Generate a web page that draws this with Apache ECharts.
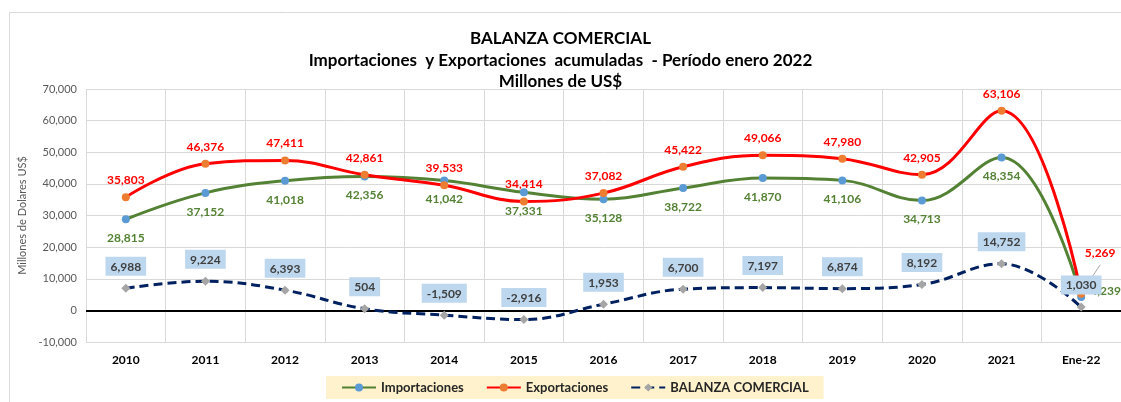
<!DOCTYPE html>
<html>
<head>
<meta charset="utf-8">
<script src="https://cdn.jsdelivr.net/npm/echarts@6/dist/echarts.min.js"></script>
<style>
  html, body { margin: 0; padding: 0; background: #fff; }
  #main { width: 1121px; height: 402px; }
</style>
</head>
<body>
<div id="main"></div>
<script>
var years = ['2010', '2011', '2012', '2013', '2014', '2015', '2016', '2017', '2018', '2019', '2020', '2021', 'Ene-22'];
var importaciones = [28815, 37152, 41018, 42356, 41042, 37331, 35128, 38722, 41870, 41106, 34713, 48354, 4239];
var exportaciones = [35803, 46376, 47411, 42861, 39533, 34414, 37082, 45422, 49066, 47980, 42905, 63106, 5269];
var balanza = [6988, 9224, 6393, 504, -1509, -2916, 1953, 6700, 7197, 6874, 8192, 14752, 1030];

var fmt = function (v) {
    return echarts.format.addCommas(v);
};
var font = 'Lato, "Open Sans", sans-serif';

var myChart = echarts.init(document.getElementById('main'));

// last point labels sit off to the side like in the sheet
var impData = importaciones.map(function (v, i) {
    if (i == importaciones.length - 1) {
        return { value: v, label: { position: 'right', offset: [-4, -6] } };
    }
    return v;
});
var expData = exportaciones.map(function (v, i) {
    if (i == exportaciones.length - 1) {
        return {
            value: v,
            label: { position: 'top', offset: [19, -24] },
            labelLine: { show: true, lineStyle: { color: '#a6a6a6', width: 1 } }
        };
    }
    return v;
});

var option = {
    animation: false,
    backgroundColor: '#fff',
    // chart frame of the sheet
    graphic: [{
        type: 'rect',
        silent: true,
        shape: { x: 9.5, y: 12.5, width: 1200, height: 500 },
        style: { fill: 'none', stroke: '#d9d9d9', lineWidth: 1 }
    }],
    title: {
        text: 'BALANZA COMERCIAL\nImportaciones  y Exportaciones  acumuladas  - Período enero 2022\nMillones de US$',
        left: 'center',
        top: 23,
        textStyle: {
            fontFamily: font,
            fontSize: 17,
            fontWeight: 'bold',
            color: '#000',
            lineHeight: 21.5
        }
    },
    legend: {
        bottom: 3,
        left: 326,
        itemWidth: 34,
        itemHeight: 10,
        itemGap: 22,
        padding: [5, 15, 5, 15],
        backgroundColor: '#fff2cc',
        textStyle: {
            fontFamily: font,
            fontSize: 13,
            fontWeight: 'bold',
            color: '#262626'
        },
        data: ['Importaciones', 'Exportaciones', 'BALANZA COMERCIAL']
    },
    grid: {
        left: 86,
        right: 0,
        top: 89,
        bottom: 60,
        outerBoundsMode: 'none',
        containLabel: false
    },
    xAxis: {
        type: 'category',
        data: years,
        boundaryGap: true,
        axisLine: { show: false, onZero: false },
        axisTick: { show: false },
        splitLine: { show: true, lineStyle: { color: '#d9d9d9', width: 1 } },
        axisLabel: {
            margin: 12,
            fontFamily: font,
            fontSize: 12,
            fontWeight: 'bold',
            color: '#000'
        }
    },
    yAxis: {
        type: 'value',
        min: -10000,
        max: 70000,
        interval: 10000,
        name: 'Millones de Dolares US$',
        nameLocation: 'middle',
        nameGap: 51,
        nameTextStyle: { fontFamily: font, fontSize: 11, color: '#595959' },
        axisLine: { show: false },
        axisTick: { show: false },
        splitLine: { lineStyle: { color: '#d9d9d9', width: 1 } },
        axisLabel: {
            fontFamily: font,
            fontSize: 11,
            color: '#595959',
            margin: 9,
            formatter: function (v) { return fmt(v); }
        }
    },
    series: [
        {
            name: 'Importaciones',
            type: 'line',
            data: impData,
            smooth: 0.4,
            symbol: 'circle',
            symbolSize: 8,
            lineStyle: { color: '#548235', width: 3 },
            itemStyle: { color: '#5b9bd5' },
            label: {
                show: true,
                position: 'bottom',
                distance: 9,
                fontFamily: font,
                fontSize: 12,
                fontWeight: 'bold',
                color: '#548235',
                formatter: function (p) { return fmt(p.value); }
            },
            z: 3
        },
        {
            name: 'Exportaciones',
            type: 'line',
            data: expData,
            smooth: 0.4,
            symbol: 'circle',
            symbolSize: 8,
            lineStyle: { color: '#ff0000', width: 3 },
            itemStyle: { color: '#ed7d31' },
            label: {
                show: true,
                position: 'top',
                distance: 7,
                fontFamily: font,
                fontSize: 12,
                fontWeight: 'bold',
                color: '#ff0000',
                formatter: function (p) { return fmt(p.value); }
            },
            z: 4
        },
        {
            name: 'BALANZA COMERCIAL',
            type: 'line',
            data: balanza,
            smooth: 0.4,
            symbol: 'diamond',
            symbolSize: 9,
            lineStyle: { color: '#002060', width: 3, type: [9, 5] },
            itemStyle: { color: '#a5a5a5' },
            label: {
                show: true,
                position: 'top',
                distance: 8,
                fontFamily: font,
                fontSize: 12,
                fontWeight: 'bold',
                color: '#404040',
                backgroundColor: '#bdd7ee',
                padding: [4, 5, 3, 5],
                formatter: function (p) { return fmt(p.value); }
            },
            markLine: {
                silent: true,
                symbol: 'none',
                label: { show: false },
                lineStyle: { color: '#000', width: 2, type: 'solid' },
                data: [{ yAxis: 0 }]
            },
            z: 5
        }
    ]
};
myChart.setOption(option);
</script>
</body>
</html>
